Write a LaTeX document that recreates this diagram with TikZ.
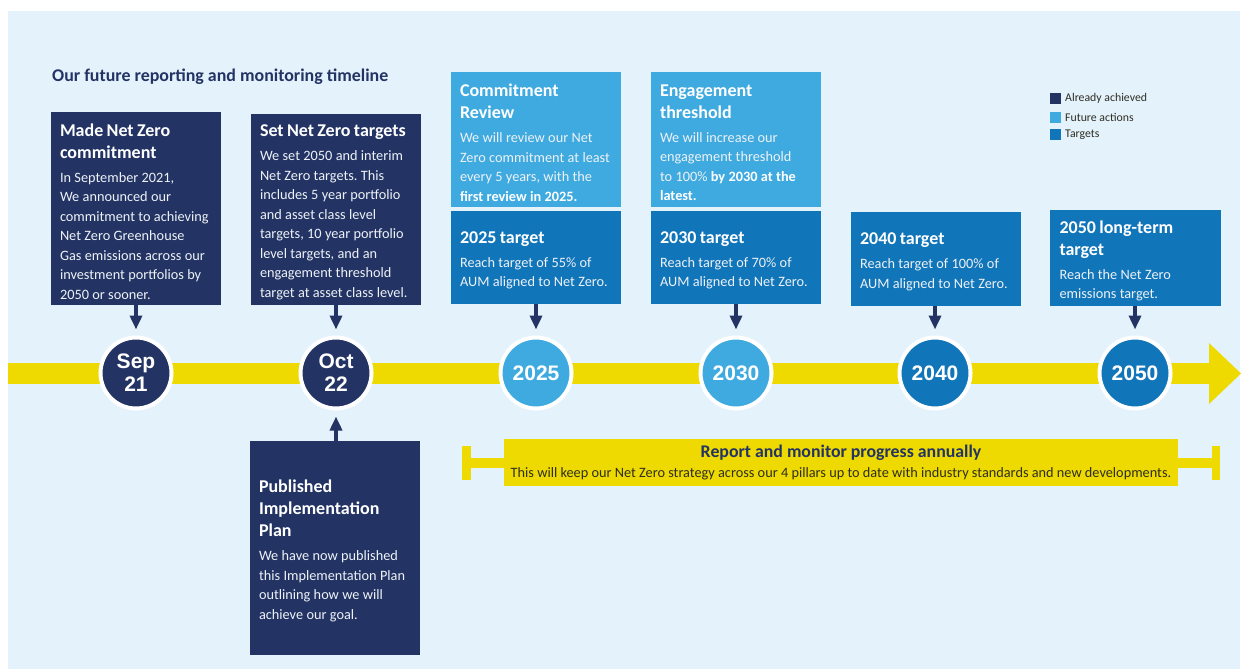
\documentclass[tikz,border=0pt]{standalone}
\usepackage{fontspec}
\setmainfont{Carlito}
\newfontfamily\circfont{Liberation Sans}
\usetikzlibrary{arrows.meta}
\frenchspacing
\definecolor{navy}{HTML}{233464}
\definecolor{lblue}{HTML}{3FAAE0}
\definecolor{mblue}{HTML}{1175BA}
\definecolor{bgblue}{HTML}{E4F2FC}
\definecolor{tlyellow}{HTML}{EEDA00}
\definecolor{bodytxt}{HTML}{EEF2F7}
\definecolor{darktxt}{HTML}{2E2E22}
\newcommand\titlef{\fontsize{18}{22}\selectfont\bfseries}
\newcommand\bodyf{\fontsize{14.3}{19.5}\selectfont}
\newcommand\boxcontent[2]{{\titlef #1\par}\vspace{4.5pt}{\bodyf\color{bodytxt}#2\par}\vspace{-6pt}}
\tikzset{
  box/.style={rectangle, anchor=north west, outer sep=0pt, inner xsep=9pt, inner ysep=0pt,
    minimum width=170pt, text width=152pt, align=left, text=white},
  navybox/.style={box, fill=navy},
  futbox/.style={box, fill=lblue},
  tgtbox/.style={box, fill=mblue},
  yearc/.style={circle, minimum size=71pt, inner sep=0pt, draw=white, line width=4pt,
    text=white, align=center, font=\circfont\bfseries\fontsize{21}{23}\selectfont},
  arr/.style={draw=navy, line width=3.8pt, -{Triangle[width=12pt,length=14pt,fill=navy]}},
  legsq/.style={rectangle, minimum size=11pt, inner sep=0pt, anchor=north west},
  legtxt/.style={anchor=west, inner sep=0pt, font=\fontsize{11.8}{13}\selectfont, text=darktxt},
}
\begin{document}
\begin{tikzpicture}[x=1pt,y=-1pt]
\useasboundingbox (0,0) rectangle (1244,669);
\fill[white] (0,0) rectangle (1244,669);
\fill[bgblue] (8,11) rectangle (1240,669);
% title
\node[anchor=west, inner sep=0pt, text=navy, font=\fontsize{17.9}{20}\selectfont\bfseries] (title) at (52,76.5) {Our future reporting and monitoring timeline};
% timeline bar
\fill[tlyellow] (8,363) rectangle (1209,384);
\fill[tlyellow] (1209,343) -- (1241,373.5) -- (1209,404) -- cycle;
% circles
\node[yearc, fill=navy] (c1) at (136,373) {Sep\\21};
\node[yearc, fill=navy] (c2) at (336,373) {Oct\\22};
\node[yearc, fill=lblue] (c3) at (536,373) {2025};
\node[yearc, fill=lblue] (c4) at (736,373) {2030};
\node[yearc, fill=mblue] (c5) at (935,373) {2040};
\node[yearc, fill=mblue] (c6) at (1135,373) {2050};
% boxes
\node[navybox, minimum height=193pt] (b1) at (51,112) {\boxcontent{Made Net Zero\\commitment}{In September 2021,\\We announced our\\commitment to achieving\\Net Zero Greenhouse\\Gas emissions across our\\investment portfolios by\\2050 or sooner.}};
\node[navybox, minimum height=191pt] (b2) at (251,114) {\boxcontent{Set Net Zero targets}{We set 2050 and interim\\Net Zero targets. This\\includes 5 year portfolio\\and asset class level\\targets, 10 year portfolio\\level targets, and an\\engagement threshold\\target at asset class level.}};
\node[futbox, minimum height=135pt] (b3) at (451,72) {\boxcontent{Commitment\\Review}{We will review our Net\\Zero commitment at least\\every 5 years, with the\\\textbf{\color{white}first review in 2025.}}};
\node[tgtbox, minimum height=93pt] (b4) at (451,211) {\boxcontent{2025 target}{Reach target of 55\% of\\AUM aligned to Net Zero.}};
\node[futbox, minimum height=135pt] (b5) at (651,72) {\boxcontent{Engagement\\threshold}{We will increase our\\engagement threshold\\to 100\% \textbf{\color{white}by 2030 at the}\\\textbf{\color{white}latest.}}};
\node[tgtbox, minimum height=93pt] (b6) at (651,211) {\boxcontent{2030 target}{Reach target of 70\% of\\AUM aligned to Net Zero.}};
\node[tgtbox, minimum height=94pt] (b7) at (851,212) {\boxcontent{2040 target}{Reach target of 100\% of\\AUM aligned to Net Zero.}};
\node[tgtbox, minimum height=96pt, minimum width=171pt] (b8) at (1050,210) {\boxcontent{2050 long-term\\target}{Reach the Net Zero\\emissions target.}};
\node[navybox, minimum height=214pt] (b9) at (250,441) {\boxcontent{Published\\Implementation\\Plan}{We have now published\\this Implementation Plan\\outlining how we will\\achieve our goal.}};
% arrows
\draw[arr, shorten >=6pt] (b1.south -| c1) -- (c1.north);
\draw[arr, shorten >=6pt] (b2.south -| c2) -- (c2.north);
\draw[arr, shorten >=6pt] (b4.south -| c3) -- (c3.north);
\draw[arr, shorten >=6pt] (b6.south -| c4) -- (c4.north);
\draw[arr, shorten >=6pt] (b7.south -| c5) -- (c5.north);
\draw[arr, shorten >=6pt] (b8.south -| c6) -- (c6.north);
\draw[arr, shorten >=6pt] (b9.north -| c2) -- (c2.south);
% report band
\fill[tlyellow] (462,446) rectangle (471,480);
\fill[tlyellow] (471,458) rectangle (504,468);
\fill[tlyellow] (1178,458) rectangle (1212,468);
\fill[tlyellow] (1212,446) rectangle (1220,480);
\node[rectangle, fill=tlyellow, minimum width=674pt, minimum height=47pt, inner sep=0pt, align=center,
  font=\fontsize{14.3}{20}\selectfont] (band) at (841,462.5)
 {{\fontsize{17.8}{20}\selectfont\bfseries\color{navy}Report and monitor progress annually}\\
  {\color{darktxt}This will keep our Net Zero strategy across our 4 pillars up to date with industry standards and new developments.}};
% legend
\node[legsq, fill=navy] (l1) at (1050,93) {};
\node[legsq, fill=lblue] (l2) at (1050,111.5) {};
\node[legsq, fill=mblue] (l3) at (1050,129) {};
\node[legtxt] (t1) at (1065,98.5) {Already achieved};
\node[legtxt] (t2) at (1065,117) {Future actions};
\node[legtxt] (t3) at (1065,134.5) {Targets};
\end{tikzpicture}
\end{document}
